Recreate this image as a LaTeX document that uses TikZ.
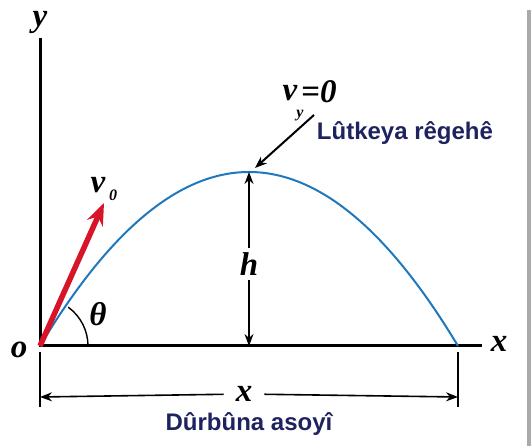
\documentclass[tikz,border=0pt]{standalone}
\usepackage{fontspec}
\setmainfont{Liberation Serif}
\setsansfont{Liberation Sans}
\usepackage{tikz}
\usetikzlibrary{arrows.meta,positioning,calc}
\definecolor{pathBlue}{RGB}{30,120,190}
\definecolor{speedRed}{RGB}{215,20,40}
\definecolor{labelNavy}{RGB}{30,35,95}
\definecolor{edgeGray}{RGB}{170,170,170}

\begin{document}
\begin{tikzpicture}[x=1pt, y=1pt,
        sym/.style={font=\fontsize{33}{33}\selectfont\bfseries\itshape, inner sep=0pt},
        small/.style={font=\fontsize{16}{16}\selectfont\bfseries\itshape, inner sep=0pt},
        tag/.style={font=\fontsize{24}{24}\selectfont\sffamily\bfseries, text=labelNavy, inner sep=0pt},
        >={Stealth[length=12pt, width=9pt]}
      ]
        \useasboundingbox (0,0) rectangle (531,446);
        \fill[edgeGray] (527,0) rectangle (531,436);

        % Axes
        \coordinate (o) at (40,100);
        \coordinate (ytop) at (40,408);
        \coordinate (xend) at (482,100);
        \coordinate (land) at (458,100);
        \coordinate (top) at (249,274);
        \coordinate (foot) at (249,100);
        \draw[line width=3pt] (ytop) -- (o) -- (xend);
        \node[sym] (ylab) at (40,424) {y};
        \node[sym] (olab) at (19,96) {o};
        \node[sym] (xlab) at (499,102) {x};

        % Trajectory
        \draw[pathBlue, line width=2pt] (o) .. controls (179.3,332) and (318.7,332) .. (land);

        % Launch speed
        \coordinate (vtip) at (104,243);
        \draw[speedRed, line width=5.5pt, -{Stealth[length=22pt, width=17pt]}] (o) -- (vtip);
        \node[sym] (vlab) at (98,261) {v};
        \node[small] (vsub) at (113,251) {0};
        \draw[line width=1.4pt] (88,100) arc[start angle=0, end angle=54, radius=48];
        \node[sym] (theta) at (98,132) {θ};

        % Height
        \node[sym, fill=white, inner sep=4pt] (hlab) at (249,182) {h};
        \draw[->, line width=1.4pt] (hlab) -- (top);
        \draw[->, line width=1.4pt] (hlab) -- (foot);

        % Top point
        \node[sym] (vy) at (290,353) {v};
        \node[small] (vysub) at (300,330) {y};
        \node[sym, anchor=west] (vyzero) at (301,354) {=0};
        \coordinate (vyfoot) at (314,331);
        \draw[->, line width=2pt] (vyfoot) -- (255,278);
        \node[tag] (peak) at (405,313) {Lûtkeya rêgehê};

        % Range
        \coordinate (rl) at (40,49);
        \coordinate (rr) at (458,49);
        \draw[line width=1.8pt] (40,94) -- (40,39);
        \draw[line width=1.8pt] (458,94) -- (458,39);
        \node[sym, fill=white, inner xsep=12pt, inner ysep=4pt] (rlab) at (244,52) {x};
        \draw[->, line width=1.6pt] (rlab) -- (rl);
        \draw[->, line width=1.6pt] (rlab) -- (rr);
        \node[tag] (range) at (249,22) {Dûrbûna asoyî};
      \end{tikzpicture}
\end{document}
